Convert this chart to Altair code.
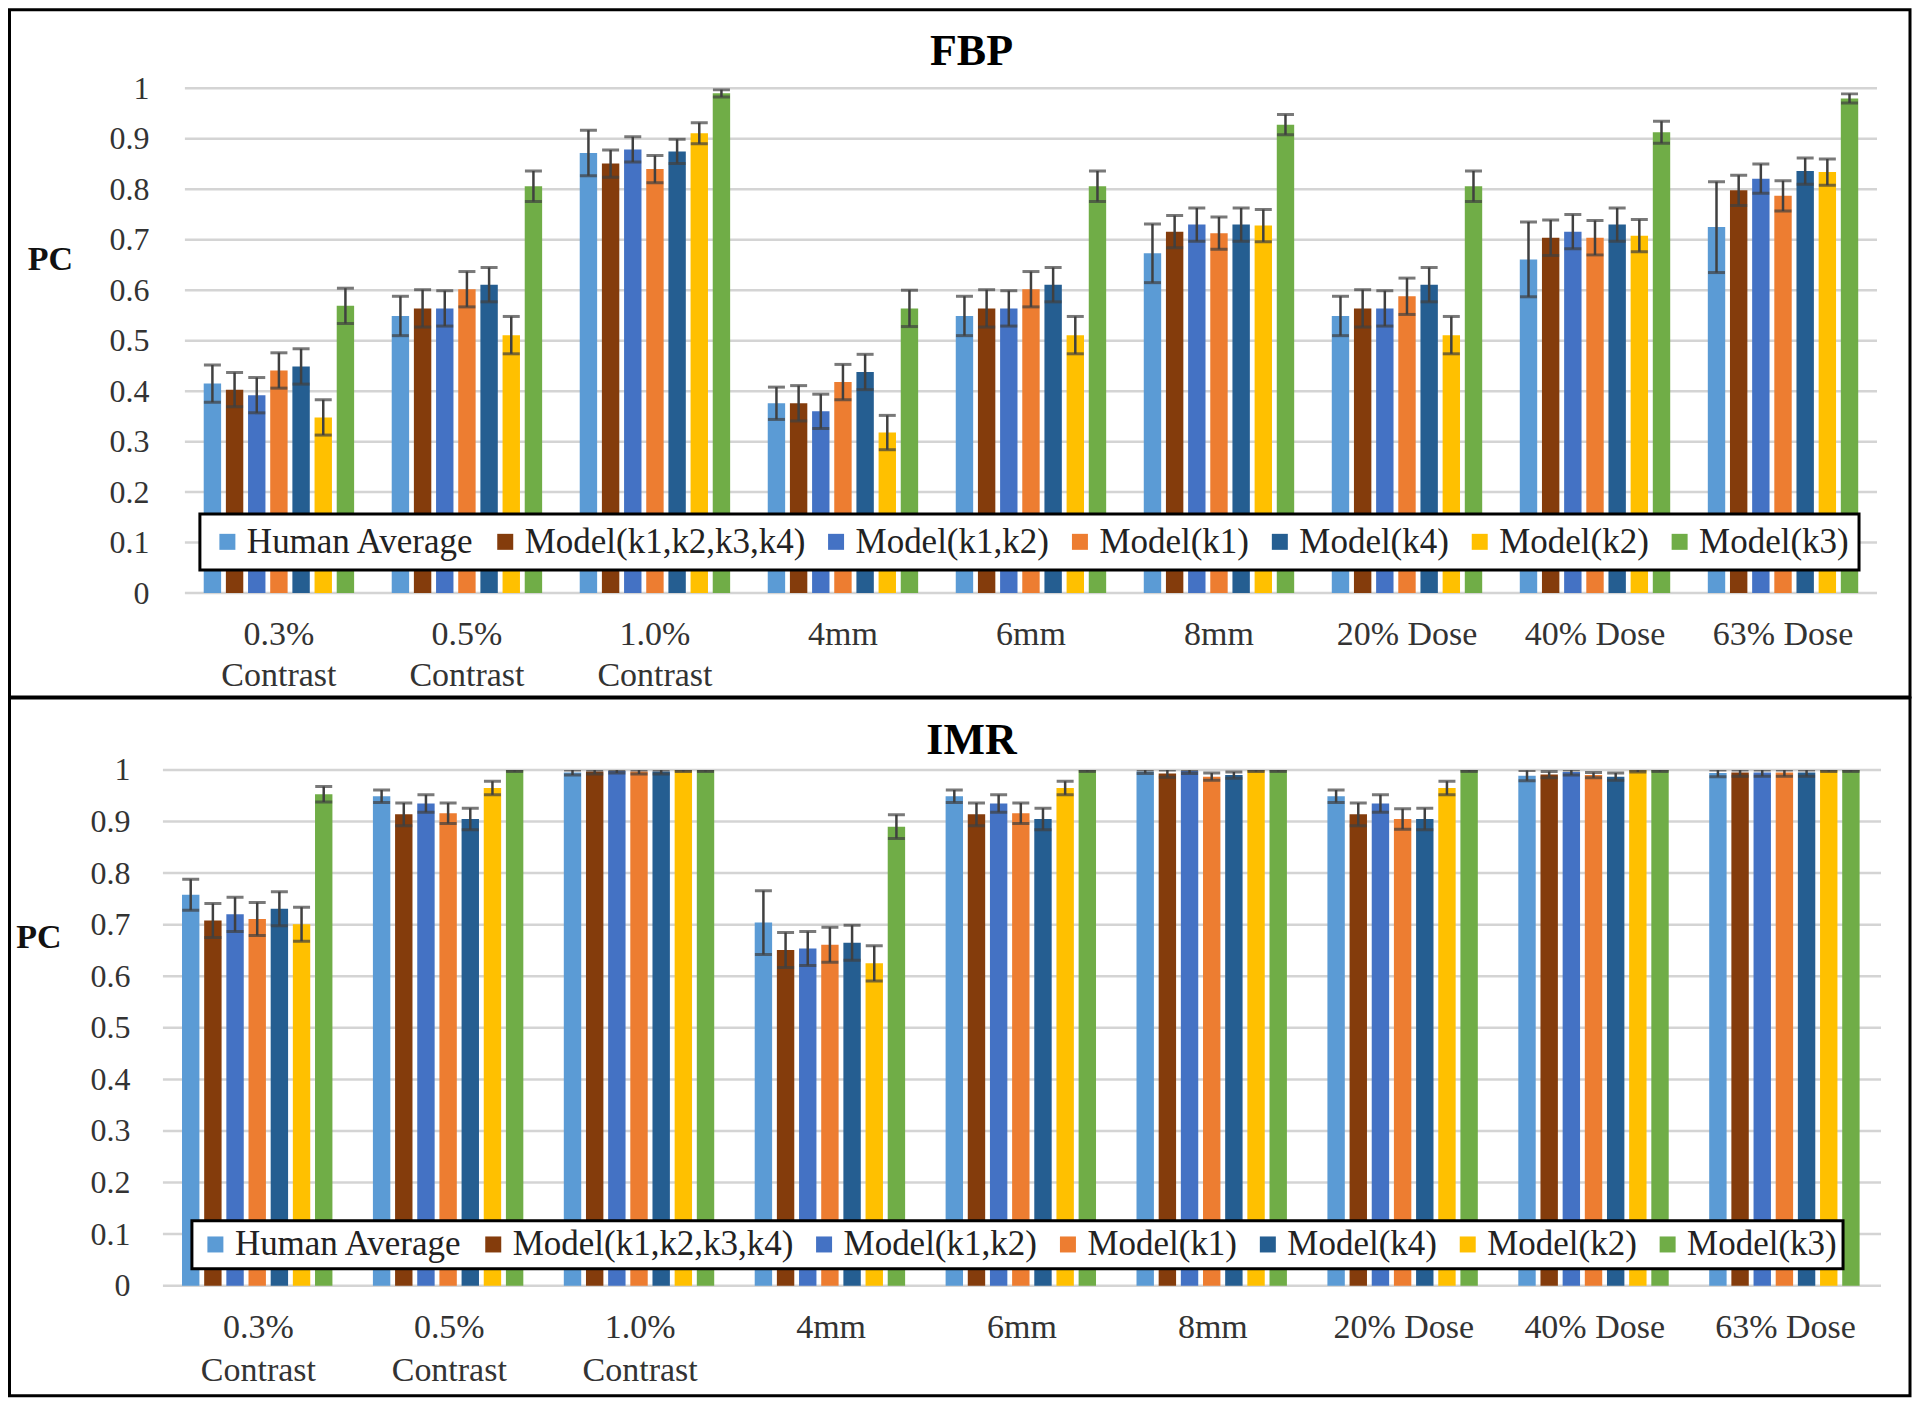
import altair as alt
import pandas as pd

CATEGORIES = ["0.3% Contrast", "0.5% Contrast", "1.0% Contrast", "4mm", "6mm",
              "8mm", "20% Dose", "40% Dose", "63% Dose"]
SERIES = ["Human Average", "Model(k1,k2,k3,k4)", "Model(k1,k2)", "Model(k1)",
          "Model(k4)", "Model(k2)", "Model(k3)"]
COLORS = ["#5B9BD5", "#843C0C", "#4472C4", "#ED7D31", "#255E91", "#FFC000", "#70AD47"]
GRID_TICKS = [0, 0.1, 0.2, 0.3, 0.4, 0.5, 0.6, 0.7, 0.8, 0.9, 1]
PANEL_TITLES = ["FBP", "IMR"]

FBP_VALUES = {
    "Human Average":      [0.415, 0.549, 0.872, 0.376, 0.549, 0.673, 0.549, 0.661, 0.725],
    "Model(k1,k2,k3,k4)": [0.403, 0.564, 0.851, 0.376, 0.564, 0.716, 0.564, 0.704, 0.798],
    "Model(k1,k2)":       [0.392, 0.564, 0.879, 0.360, 0.564, 0.730, 0.564, 0.716, 0.821],
    "Model(k1)":          [0.441, 0.602, 0.840, 0.418, 0.602, 0.713, 0.588, 0.704, 0.787],
    "Model(k4)":          [0.449, 0.611, 0.875, 0.438, 0.611, 0.730, 0.611, 0.730, 0.836],
    "Model(k2)":          [0.348, 0.511, 0.911, 0.318, 0.511, 0.728, 0.511, 0.708, 0.834],
    "Model(k3)":          [0.569, 0.806, 0.990, 0.564, 0.806, 0.928, 0.806, 0.913, 0.980],
}
FBP_ERRORS = {
    "Human Average":      [0.037, 0.039, 0.045, 0.032, 0.039, 0.058, 0.039, 0.074, 0.090],
    "Model(k1,k2,k3,k4)": [0.034, 0.037, 0.027, 0.035, 0.037, 0.032, 0.037, 0.035, 0.030],
    "Model(k1,k2)":       [0.035, 0.035, 0.025, 0.034, 0.035, 0.033, 0.035, 0.034, 0.029],
    "Model(k1)":          [0.035, 0.035, 0.027, 0.035, 0.035, 0.032, 0.036, 0.034, 0.030],
    "Model(k4)":          [0.035, 0.034, 0.024, 0.035, 0.034, 0.033, 0.034, 0.033, 0.026],
    "Model(k2)":          [0.035, 0.037, 0.021, 0.034, 0.037, 0.032, 0.037, 0.032, 0.026],
    "Model(k3)":          [0.035, 0.030, 0.007, 0.036, 0.030, 0.020, 0.030, 0.022, 0.009],
}
IMR_VALUES = {
    "Human Average":      [0.758, 0.949, 0.995, 0.704, 0.949, 0.997, 0.949, 0.989, 0.994],
    "Model(k1,k2,k3,k4)": [0.708, 0.914, 0.997, 0.651, 0.914, 0.993, 0.914, 0.991, 0.995],
    "Model(k1,k2)":       [0.720, 0.935, 0.998, 0.654, 0.935, 0.998, 0.935, 0.996, 0.995],
    "Model(k1)":          [0.711, 0.916, 0.997, 0.661, 0.916, 0.987, 0.905, 0.990, 0.995],
    "Model(k4)":          [0.731, 0.905, 0.997, 0.665, 0.905, 0.990, 0.905, 0.987, 0.995],
    "Model(k2)":          [0.701, 0.965, 1.000, 0.625, 0.965, 1.000, 0.965, 1.000, 1.000],
    "Model(k3)":          [0.953, 1.000, 1.000, 0.890, 1.000, 1.000, 1.000, 1.000, 1.000],
}
IMR_ERRORS = {
    "Human Average":      [0.030, 0.012, 0.005, 0.062, 0.012, 0.004, 0.012, 0.010, 0.007],
    "Model(k1,k2,k3,k4)": [0.033, 0.022, 0.005, 0.034, 0.022, 0.007, 0.022, 0.006, 0.007],
    "Model(k1,k2)":       [0.033, 0.017, 0.004, 0.033, 0.017, 0.005, 0.017, 0.006, 0.007],
    "Model(k1)":          [0.032, 0.020, 0.005, 0.034, 0.020, 0.007, 0.020, 0.005, 0.007],
    "Model(k4)":          [0.033, 0.021, 0.005, 0.034, 0.021, 0.006, 0.021, 0.007, 0.007],
    "Model(k2)":          [0.033, 0.013, 0.003, 0.034, 0.013, 0.003, 0.013, 0.004, 0.003],
    "Model(k3)":          [0.015, 0.003, 0.003, 0.023, 0.003, 0.003, 0.003, 0.003, 0.003],
}

FONT = "Liberation Serif"
W = 1719


def long_table(values, errors):
    rows = []
    for s in SERIES:
        for c, v, e in zip(CATEGORIES, values[s], errors[s]):
            rows.append({"category": c, "series": s, "value": v,
                         "lo": v - e, "hi": min(v + e, 1.0)})
    return pd.DataFrame(rows)


def panel(title, values, errors, height, x_range, ylab_pad, pc_x, pc_y,
          title_y, legend_x, legend_y, legend_pad, frame_y1, frame_y2,
          xlab_pad, xlab_lh):
    df = long_table(values, errors)
    yscale = alt.Scale(domain=[0, 1], nice=False, zero=True)
    yaxis = alt.Axis(values=GRID_TICKS, format=".1~f", grid=False, domain=False,
                     ticks=False, labelFont=FONT, labelFontSize=32,
                     labelColor="#333333", labelPadding=ylab_pad,
                     title="PC", titleAngle=0, titleX=pc_x, titleY=pc_y,
                     titleAlign="center", titleBaseline="middle",
                     titleFont=FONT, titleFontSize=34, titleFontWeight="bold",
                     titleColor="#111111")
    xaxis = alt.Axis(domain=False, ticks=False, labelAngle=0, labelFont=FONT,
                     labelFontSize=34, labelColor="#333333",
                     labelPadding=xlab_pad, labelLineHeight=xlab_lh,
                     labelOverlap=False, labelLimit=400,
                     labelExpr="indexof(datum.label, 'Contrast') >= 0 ? split(datum.label, ' ') : datum.label")
    x = alt.X("category:N", sort=CATEGORIES, title=None, axis=xaxis,
              scale=alt.Scale(range=x_range, paddingInner=0.2, paddingOuter=0.1))
    xoff = alt.XOffset("series:N", sort=SERIES,
                       scale=alt.Scale(paddingInner=0.215, paddingOuter=0))

    frame = alt.Chart(pd.DataFrame({"f": [0]})).mark_rect(
        filled=False, stroke="black", strokeWidth=3
    ).encode(x=alt.value(-153.5), x2=alt.value(1748),
             y=alt.value(frame_y1), y2=alt.value(frame_y2))

    head = alt.Chart(pd.DataFrame({"t": [title]})).mark_text(
        font=FONT, fontSize=44, fontWeight="bold", color="black",
        align="center", baseline="alphabetic"
    ).encode(text="t:N", x=alt.value(809), y=alt.value(title_y))

    grid = alt.Chart(pd.DataFrame({"v": GRID_TICKS})).mark_rule(
        color="#d4d4d4", strokeWidth=2.5
    ).encode(y=alt.Y("v:Q", scale=yscale, axis=yaxis),
             x=alt.value(x_range[0]), x2=alt.value(x_range[1]))

    base = alt.Chart(df)
    bars = base.mark_bar().encode(
        x=x, xOffset=xoff,
        y=alt.Y("value:Q", scale=yscale, axis=yaxis),
        color=alt.Color("series:N", sort=SERIES,
                        scale=alt.Scale(domain=SERIES, range=COLORS),
                        legend=alt.Legend(title=None, orient="none",
                                          legendX=legend_x, legendY=legend_y,
                                          direction="horizontal", columns=7,
                                          symbolType="square", symbolSize=256,
                                          symbolStrokeWidth=0, symbolOpacity=1,
                                          labelFont=FONT, labelFontSize=35,
                                          labelColor="#222222", labelOffset=2,
                                          labelLimit=400, columnPadding=13,
                                          padding=legend_pad,
                                          strokeColor="black",
                                          fillColor="white")),
    )
    err = base.mark_rule(color="#404040", strokeWidth=2.5, clip=True).encode(
        x=x, xOffset=xoff,
        y=alt.Y("lo:Q", scale=yscale, axis=yaxis), y2="hi:Q")
    cap_hi = base.mark_tick(color="#404040", thickness=3, size=17, clip=True).encode(
        x=x, xOffset=xoff, y=alt.Y("hi:Q", scale=yscale, axis=yaxis))
    cap_lo = base.mark_tick(color="#404040", thickness=3, size=17, clip=True).encode(
        x=x, xOffset=xoff, y=alt.Y("lo:Q", scale=yscale, axis=yaxis))

    return alt.layer(frame, head, grid, bars, err, cap_hi, cap_lo).properties(
        width=W, height=height)


top = panel(PANEL_TITLES[0], FBP_VALUES, FBP_ERRORS, height=505, x_range=[22, 1715],
            ylab_pad=14, pc_x=-113, pc_y=171, title_y=-23,
            legend_x=37, legend_y=426, legend_pad=10,
            frame_y1=-78.5, frame_y2=609, xlab_pad=24, xlab_lh=42)
bottom = panel(PANEL_TITLES[1], IMR_VALUES, IMR_ERRORS, height=516, x_range=[0, 1719],
               ylab_pad=33, pc_x=-124.5, pc_y=168, title_y=-16,
               legend_x=29, legend_y=451, legend_pad=6,
               frame_y1=-72, frame_y2=626, xlab_pad=25, xlab_lh=43)

chart = alt.vconcat(top, bottom, spacing=-3).resolve_scale(
    x="independent", y="independent", color="independent"
).resolve_legend(color="independent").configure_view(
    strokeWidth=0
).configure_legend(strokeWidth=3).properties(padding=0, background="white")

chart.save("out.html", embed_options={"renderer": "svg", "actions": False})
